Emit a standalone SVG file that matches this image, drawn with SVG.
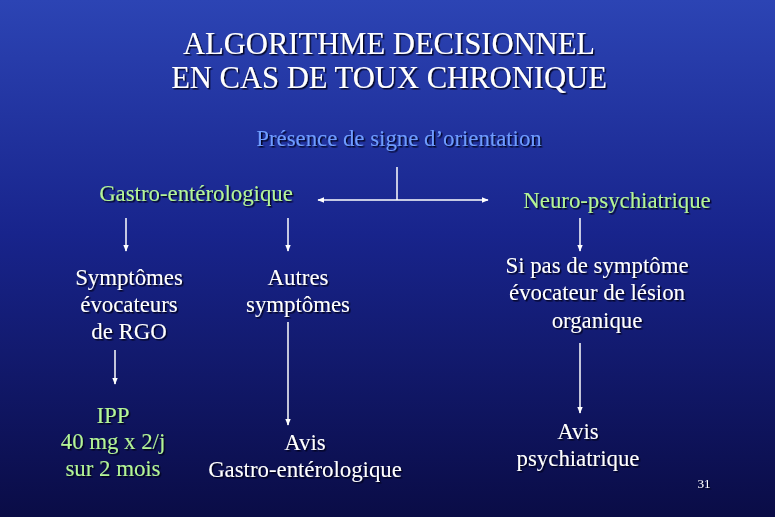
<svg xmlns="http://www.w3.org/2000/svg" width="775" height="517" viewBox="0 0 775 517">
<defs>
<linearGradient id="bg" x1="0" y1="0" x2="0" y2="1">
<stop offset="0" stop-color="#2c44b4"/>
<stop offset="0.45" stop-color="#18248c"/>
<stop offset="1" stop-color="#0a0c46"/>
</linearGradient>
<filter id="sh" x="-10%" y="-30%" width="120%" height="160%">
<feDropShadow dx="1.5" dy="1.5" stdDeviation="0.6" flood-color="#000018" flood-opacity="0.9"/>
</filter>
<marker id="ah" viewBox="0 0 10 10" refX="9" refY="5" markerWidth="7" markerHeight="7" markerUnits="userSpaceOnUse" orient="auto-start-reverse">
<path d="M0,1 L10,5 L0,9 z" fill="#ffffff"/>
</marker>
<style>
text{font-family:"Liberation Serif","Times New Roman",serif;text-anchor:middle;filter:url(#sh)}
.t{font-size:30.6px;fill:#ffffff}
.w{font-size:22.8px;fill:#ffffff}
.g{font-size:22.8px;fill:#b4f596}
.b{font-size:22.8px;fill:#6e9cff}
.n{font-size:13px;fill:#ffffff}
.c line{stroke:#ffffff;stroke-width:1.5;fill:none}
</style>
</defs>
<rect width="775" height="517" fill="url(#bg)"/>
<g id="title">
<text class="t" x="389" y="54">ALGORITHME DECISIONNEL</text>
<text class="t" x="389" y="88">EN CAS DE TOUX CHRONIQUE</text>
</g>
<g id="presence"><text class="b" x="399" y="146">Présence de signe d’orientation</text></g>
<g id="gastro"><text class="g" x="196" y="201">Gastro-entérologique</text></g>
<g id="neuro"><text class="g" x="617" y="208">Neuro-psychiatrique</text></g>
<g id="rgo">
<text class="w" x="129" y="285">Symptômes</text>
<text class="w" x="129" y="312">évocateurs</text>
<text class="w" x="129" y="339">de RGO</text>
</g>
<g id="autres">
<text class="w" x="298" y="285">Autres</text>
<text class="w" x="298" y="312">symptômes</text>
</g>
<g id="sipas">
<text class="w" x="597" y="273">Si pas de symptôme</text>
<text class="w" x="597" y="300">évocateur de lésion</text>
<text class="w" x="597" y="328">organique</text>
</g>
<g id="ipp">
<text class="g" x="113" y="423">IPP</text>
<text class="g" x="113" y="449">40 mg x 2/j</text>
<text class="g" x="113" y="476">sur 2 mois</text>
</g>
<g id="avisgastro">
<text class="w" x="305" y="450">Avis</text>
<text class="w" x="305" y="477">Gastro-entérologique</text>
</g>
<g id="avispsy">
<text class="w" x="578" y="439">Avis</text>
<text class="w" x="578" y="466">psychiatrique</text>
</g>
<g id="page"><text class="n" x="704" y="488">31</text></g>
<g id="connectors" class="c">
<line x1="397" y1="167" x2="397" y2="200"/>
<line x1="397" y1="200" x2="318" y2="200" marker-end="url(#ah)"/>
<line x1="397" y1="200" x2="488" y2="200" marker-end="url(#ah)"/>
<line x1="126" y1="218" x2="126" y2="251" marker-end="url(#ah)"/>
<line x1="288" y1="218" x2="288" y2="251" marker-end="url(#ah)"/>
<line x1="580" y1="218" x2="580" y2="251" marker-end="url(#ah)"/>
<line x1="115" y1="350" x2="115" y2="384" marker-end="url(#ah)"/>
<line x1="288" y1="322" x2="288" y2="425" marker-end="url(#ah)"/>
<line x1="580" y1="343" x2="580" y2="413" marker-end="url(#ah)"/>
</g>
</svg>
